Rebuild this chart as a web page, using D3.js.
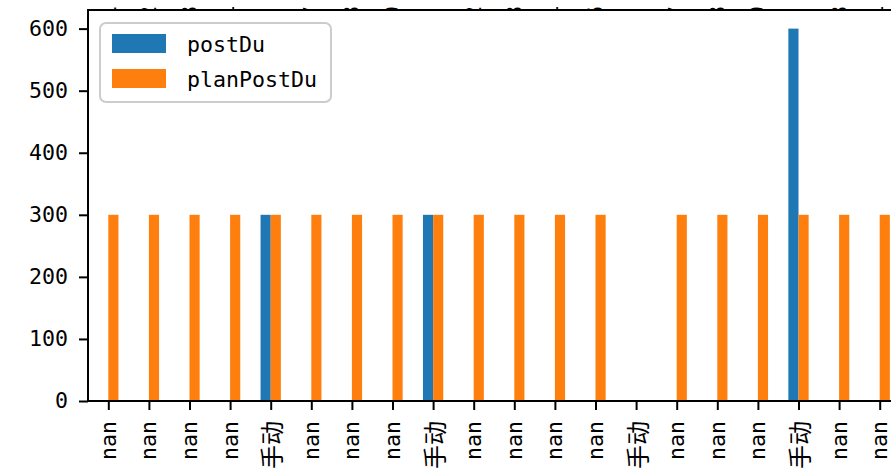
<!DOCTYPE html>
<html>
<head>
<meta charset="utf-8">
<script src="https://cdn.jsdelivr.net/npm/d3@7"></script>
<style>
  body { margin: 0; background: #fff; }
  svg { display: block; }
</style>
</head>
<body>
<div id="chart"></div>
<script>
// data
const categories = ["nan","nan","nan","nan","手动","nan","nan","nan","手动","nan",
                    "nan","nan","nan","手动","nan","nan","nan","手动","nan","nan"];
const postDu     = [null,null,null,null,300,null,null,null,300,null,
                    null,null,null,null,null,null,null,600,null,null];
const planPostDu = [300,300,300,300,300,300,300,300,300,300,
                    300,300,300,null,300,300,300,300,300,300];
const yTicks = [0, 100, 200, 300, 400, 500, 600];
// first characters of the tick labels of the panel above (only their tips show)
const upperHeads = ["1","2","8","4","","7","8","9","","2",
                    "8","4","6","","7","8","9","","8","4"];
const seriesNames = ["postDu", "planPostDu"];
const colors = ["#1f77b4", "#ff7f0e"];

const W = 891, H = 475;
const margin = ({top: 10, left: 88, bottom: 74});
const plotH = H - margin.top - margin.bottom;
const step = 40.6;

const mono = "'DejaVu Sans Mono', monospace";
const cjk = "'Noto Sans CJK SC', sans-serif";

const svg = d3.select("#chart")
    .append("svg")
    .attr("width", W)
    .attr("height", H);

// x scale: category index, matplotlib style limits (-0.5, n - 0.5)
const x = d3.scaleLinear()
    .domain([-0.5, categories.length - 0.5])
    .range([margin.left, margin.left + step * categories.length]);

const y = d3.scaleLinear()
    .domain([0, 630])
    .range([margin.top + plotH, margin.top]);

// tips of the upper panel's labels, covered below by this panel's background
svg.append("g")
    .selectAll("text")
    .data(upperHeads)
    .join("text")
    .attr("transform", (d, i) => `translate(${x(i)},19) rotate(-90)`)
    .attr("dominant-baseline", "central")
    .attr("font-family", mono)
    .attr("font-size", 21.6)
    .attr("fill", "black")
    .text(d => d);

// axes background
svg.append("rect")
    .attr("x", margin.left)
    .attr("y", margin.top)
    .attr("width", W)
    .attr("height", plotH)
    .attr("fill", "white");

// bars
const series = [postDu, planPostDu];
const barW = 0.25;
series.forEach((vals, s) => {
    svg.append("g")
        .selectAll("rect")
        .data(vals.map((v, i) => ({i, v})).filter(d => d.v != null))
        .join("rect")
        .attr("x", d => x(d.i - barW + s * barW))
        .attr("width", x(barW) - x(0))
        .attr("y", d => y(d.v))
        .attr("height", d => y(0) - y(d.v))
        .attr("fill", colors[s]);
});

// y axis
const yAxis = d3.axisLeft(y)
    .tickValues(yTicks)
    .tickSize(9)
    .tickPadding(11);

svg.append("g")
    .attr("transform", `translate(${margin.left},0)`)
    .call(yAxis)
    .call(g => g.select(".domain").remove())
    .call(g => g.selectAll(".tick line").attr("stroke-width", 2))
    .call(g => g.selectAll(".tick text")
        .attr("font-family", mono)
        .attr("font-size", 21.6)
        .attr("fill", "black"));

// x axis ticks
const xAxis = d3.axisBottom(x)
    .tickValues(d3.range(categories.length))
    .tickSize(9)
    .tickFormat("");

svg.append("g")
    .attr("transform", `translate(0,${y(0)})`)
    .call(xAxis)
    .call(g => g.select(".domain").remove())
    .call(g => g.selectAll(".tick line").attr("stroke-width", 2));

// rotated x tick labels
svg.append("g")
    .selectAll("text")
    .data(categories)
    .join("text")
    .attr("transform", (d, i) => `translate(${x(i)},421) rotate(-90)`)
    .attr("text-anchor", "end")
    .attr("dominant-baseline", "central")
    .attr("font-family", d => d === "nan" ? mono : cjk)
    .attr("font-size", d => d === "nan" ? 21.6 : 24)
    .attr("fill", "black")
    .text(d => d);

// spines (left, top, bottom)
svg.append("path")
    .attr("d", `M${W + 5},${margin.top}H${margin.left}V${y(0)}H${W + 5}`)
    .attr("fill", "none")
    .attr("stroke", "black")
    .attr("stroke-width", 2);

// legend
const legend = svg.append("g");
legend.append("rect")
    .attr("x", 100)
    .attr("y", 23)
    .attr("width", 231)
    .attr("height", 79)
    .attr("rx", 6)
    .attr("fill", "white")
    .attr("fill-opacity", 0.8)
    .attr("stroke", "#cccccc")
    .attr("stroke-width", 2);

const item = legend.selectAll("g")
    .data(seriesNames)
    .join("g")
    .attr("transform", (d, i) => `translate(112,${34 + i * 35})`);

item.append("rect")
    .attr("width", 54)
    .attr("height", 19)
    .attr("fill", (d, i) => colors[i]);

item.append("text")
    .attr("x", 75)
    .attr("y", 10)
    .attr("dominant-baseline", "central")
    .attr("font-family", mono)
    .attr("font-size", 21.6)
    .attr("fill", "black")
    .text(d => d);
</script>
</body>
</html>
